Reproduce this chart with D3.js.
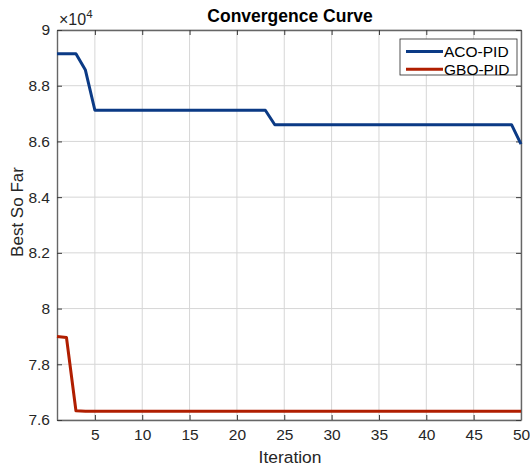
<!DOCTYPE html>
<html><head><meta charset="utf-8">
<script src="https://cdn.jsdelivr.net/npm/d3@7"></script>
<style>body{margin:0;background:#fff}svg{display:block}text{font-family:"Liberation Sans",Arial,sans-serif}</style>
</head><body>
<svg id="c" width="530" height="471"></svg>
<script>
const iterations = d3.range(1, 51);
const acoValues = [89150,89150,89150,88560,87120, ...Array(18).fill(87120), ...Array(26).fill(86600), 85900];
const gboValues = [79000,78960,76330, ...Array(47).fill(76310)];
const seriesNames = ["ACO-PID","GBO-PID"];
const seriesColors = ["#0b3a85","#b01e00"];
const xTicks = [5,10,15,20,25,30,35,40,45,50];
const yTicks = [76000,78000,80000,82000,84000,86000,88000,90000];
const yTickLabels = ["7.6","7.8","8","8.2","8.4","8.6","8.8","9"];

const svg = d3.select("#c");
const L=57, R=521, T=30, B=420;
const x = d3.scaleLinear().domain([1,50]).range([L,R]);
const y = d3.scaleLinear().domain([76000,90000]).range([B,T]);

// grid
svg.append("g").selectAll("line").data(xTicks).join("line")
  .attr("x1",d=>x(d)).attr("x2",d=>x(d)).attr("y1",T).attr("y2",B)
  .attr("stroke","#d6d6d6").attr("stroke-width",1);
svg.append("g").selectAll("line").data(yTicks).join("line")
  .attr("x1",L).attr("x2",R).attr("y1",d=>y(d)).attr("y2",d=>y(d))
  .attr("stroke","#d6d6d6").attr("stroke-width",1);

const axisColor="#666666";
const fmt = d=>yTickLabels[yTicks.indexOf(d)];
const gx = svg.append("g").attr("transform",`translate(0,${B})`)
  .call(d3.axisBottom(x).tickValues(xTicks).tickSizeInner(-5).tickSizeOuter(0).tickPadding(9));
const gxt = svg.append("g").attr("transform",`translate(0,${T})`)
  .call(d3.axisTop(x).tickValues(xTicks).tickSizeInner(-5).tickSizeOuter(0).tickFormat(""));
const gy = svg.append("g").attr("transform",`translate(${L},0)`)
  .call(d3.axisLeft(y).tickValues(yTicks).tickFormat(fmt).tickSizeInner(-5).tickSizeOuter(0).tickPadding(7));
const gyr = svg.append("g").attr("transform",`translate(${R},0)`)
  .call(d3.axisRight(y).tickValues(yTicks).tickFormat("").tickSizeInner(-5).tickSizeOuter(0));
[gx,gxt,gy,gyr].forEach(g=>{
  g.selectAll("path").attr("stroke",axisColor).attr("stroke-width",1.4);
  g.selectAll("line").attr("stroke","#3a3a3a");
  g.selectAll("text").attr("fill","#262626").attr("font-size","15.5px").attr("font-family",null);
});

// lines
const line = d3.line().x((d,i)=>x(iterations[i])).y(d=>y(d));
[acoValues,gboValues].forEach((vals,k)=>{
  svg.append("path").datum(vals).attr("d",line).attr("fill","none")
    .attr("stroke",seriesColors[k]).attr("stroke-width",3).attr("stroke-linejoin","round");
});

// title and labels
svg.append("text").attr("x",290).attr("y",21.5).attr("text-anchor","middle")
  .attr("font-weight","bold").attr("font-size","17.5px").attr("fill","#000").text("Convergence Curve");
svg.append("text").attr("x",290).attr("y",463).attr("text-anchor","middle")
  .attr("font-size","17.4px").attr("fill","#262626").text("Iteration");
svg.append("text").attr("transform",`translate(23,212) rotate(-90)`).attr("text-anchor","middle")
  .attr("font-size","17px").attr("fill","#262626").text("Best So Far");
const ex = svg.append("text").attr("x",59).attr("y",25).attr("font-size","16px").attr("fill","#262626");
ex.append("tspan").text("\u00d710");
ex.append("tspan").attr("dy",-7).attr("font-size","11.5px").text("4");

// legend
const lg = svg.append("g");
lg.append("rect").attr("x",400).attr("y",39).attr("width",117).attr("height",36)
  .attr("fill","#fff").attr("stroke","#262626").attr("stroke-width",0.8);
seriesNames.forEach((n,k)=>{
  const yy = 51.5+k*17.8;
  lg.append("line").attr("x1",406).attr("x2",443).attr("y1",yy).attr("y2",yy)
    .attr("stroke",seriesColors[k]).attr("stroke-width",3);
  lg.append("text").attr("x",444).attr("y",yy+5.5).attr("font-size","15.5px").attr("fill","#000").text(n);
});
</script>
</body></html>
